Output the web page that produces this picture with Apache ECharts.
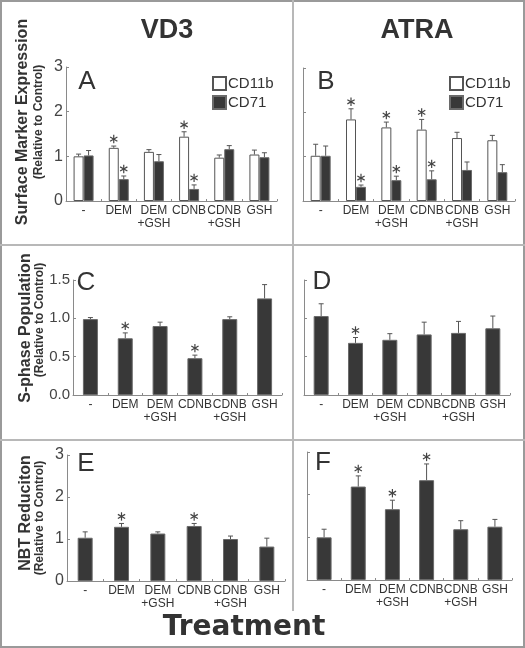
<!DOCTYPE html>
<html><head><meta charset="utf-8">
<script src="https://cdn.jsdelivr.net/npm/echarts@6/dist/echarts.min.js"></script>
<style>html,body{margin:0;padding:0;background:#fff}#c{width:525px;height:648px}</style>
</head><body><div id="c"></div>
<script>
const categories = ['-', 'DEM', 'DEM\n+GSH', 'CDNB', 'CDNB\n+GSH', 'GSH'];
const yTicks3 = [0, 1, 2, 3];
const yTicksS = [0.0, 0.5, 1.0, 1.5];

// Panel A (VD3, surface markers)
const A_CD11b = [1.00, 1.19, 1.10, 1.44, 0.97, 1.04];
const A_CD11b_err = [0.05, 0.04, 0.05, 0.11, 0.06, 0.10];
const A_CD11b_sig = [0, 1, 0, 1, 0, 0];
const A_CD71 = [1.02, 0.49, 0.89, 0.27, 1.16, 0.98];
const A_CD71_err = [0.11, 0.07, 0.15, 0.09, 0.08, 0.10];
const A_CD71_sig = [0, 1, 0, 1, 0, 0];
// Panel B (ATRA, surface markers)
const B_CD11b = [1.02, 1.84, 1.66, 1.61, 1.42, 1.37];
const B_CD11b_err = [0.26, 0.24, 0.12, 0.23, 0.13, 0.11];
const B_CD11b_sig = [0, 1, 1, 1, 0, 0];
const B_CD71 = [1.02, 0.32, 0.47, 0.49, 0.70, 0.65];
const B_CD71_err = [0.22, 0.04, 0.09, 0.19, 0.18, 0.17];
const B_CD71_sig = [0, 1, 1, 1, 0, 0];
// Panel C (VD3, S-phase)
const C_vals = [0.99, 0.74, 0.90, 0.48, 0.99, 1.26];
const C_err = [0.02, 0.07, 0.05, 0.04, 0.03, 0.18];
const C_sig = [0, 1, 0, 1, 0, 0];
// Panel D (ATRA, S-phase)
const D_vals = [1.03, 0.68, 0.72, 0.79, 0.81, 0.87];
const D_err = [0.16, 0.07, 0.08, 0.16, 0.15, 0.16];
const D_sig = [0, 1, 0, 0, 0, 0];
// Panel E (VD3, NBT)
const E_vals = [1.03, 1.29, 1.13, 1.31, 1.00, 0.82];
const E_err = [0.14, 0.08, 0.04, 0.06, 0.07, 0.20];
const E_sig = [0, 1, 0, 1, 0, 0];
// Panel F (ATRA, NBT)
const F_vals = [1.00, 2.19, 1.66, 2.34, 1.19, 1.25];
const F_err = [0.19, 0.25, 0.21, 0.38, 0.20, 0.17];
const F_sig = [0, 1, 1, 1, 0, 0];

const chart = echarts.init(document.getElementById('c'), null, {renderer: 'canvas'});

const AXIS = '#8a8a8a';
const TXT = '#333';
const DARK = {color: '#383838', borderColor: '#6a6a6a', borderWidth: 1};
const WHITE = {color: '#ffffff', borderColor: '#555', borderWidth: 1};

const grids = [
  {left: 66, top: 67, width: 211, height: 134},
  {left: 303, top: 68, width: 212, height: 133},
  {left: 73, top: 280, width: 209, height: 115},
  {left: 304, top: 280, width: 206, height: 115},
  {left: 67, top: 455, width: 218, height: 126},
  {left: 307, top: 452, width: 205, height: 128}
];

const xAxes = grids.map((g, i) => ({
  type: 'category', gridIndex: i, data: categories,
  axisLine: {lineStyle: {color: AXIS, width: 1}},
  axisTick: {show: true, inside: true, length: 2, lineStyle: {color: AXIS}},
  axisLabel: {interval: 0, fontFamily: 'Liberation Sans', fontSize: 12, color: TXT, lineHeight: 13, margin: 3}
}));

function yAxis(i, ticks, showLabels, fs) {
  const step = ticks[1] - ticks[0];
  return {
    type: 'value', gridIndex: i, min: ticks[0], max: ticks[ticks.length - 1], interval: step,
    splitLine: {show: false},
    axisLine: {show: true, lineStyle: {color: AXIS, width: 1}},
    axisTick: {show: true, inside: true, length: 3, lineStyle: {color: AXIS}},
    axisLabel: {show: showLabels, fontFamily: 'Liberation Sans', fontSize: fs, color: '#444', margin: 3,
      formatter: step < 1 ? (v => v.toFixed(1)) : (v => String(v))}
  };
}
const yAxes = [
  yAxis(0, yTicks3, true, 16), yAxis(1, yTicks3, false, 16),
  yAxis(2, yTicksS, true, 15), yAxis(3, yTicksS, false, 15),
  yAxis(4, yTicks3, true, 16), yAxis(5, yTicks3, false, 16)
];

function errSeries(gi, vals, errs, sigs, offset) {
  return {
    type: 'custom', xAxisIndex: gi, yAxisIndex: gi, z: 5, silent: true,
    encode: {x: 0, y: 1},
    data: vals.map((v, k) => [k, v, errs[k], sigs[k]]),
    renderItem: function (params, api) {
      const k = api.value(0), v = api.value(1), e = api.value(2), s = api.value(3);
      const b = api.coord([k, v]);
      const t = api.coord([k, v + e]);
      const cx = b[0] + offset;
      const st = {stroke: '#555', lineWidth: 1};
      const ch = [
        {type: 'line', shape: {x1: cx, y1: b[1], x2: cx, y2: t[1]}, style: st},
        {type: 'line', shape: {x1: cx - 2.5, y1: t[1], x2: cx + 2.5, y2: t[1]}, style: st}
      ];
      if (s) {
        const cy = t[1] - 7, r = 4.2;
        const sst = {stroke: '#444', lineWidth: 1.2};
        const dx = r * Math.cos(Math.PI / 6), dy = r * Math.sin(Math.PI / 6);
        ch.push({type: 'line', shape: {x1: cx, y1: cy - r, x2: cx, y2: cy + r}, style: sst});
        ch.push({type: 'line', shape: {x1: cx - dx, y1: cy - dy, x2: cx + dx, y2: cy + dy}, style: sst});
        ch.push({type: 'line', shape: {x1: cx - dx, y1: cy + dy, x2: cx + dx, y2: cy - dy}, style: sst});
      }
      return {type: 'group', children: ch};
    }
  };
}

const series = [];
// A and B paired bars
[[0, A_CD11b, A_CD11b_err, A_CD11b_sig, A_CD71, A_CD71_err, A_CD71_sig],
 [1, B_CD11b, B_CD11b_err, B_CD11b_sig, B_CD71, B_CD71_err, B_CD71_sig]].forEach(p => {
  const gi = p[0];
  series.push({name: 'CD11b', type: 'bar', xAxisIndex: gi, yAxisIndex: gi, data: p[1], barWidth: 10, barGap: '0%', itemStyle: WHITE, silent: true});
  series.push({name: 'CD71', type: 'bar', xAxisIndex: gi, yAxisIndex: gi, data: p[4], barWidth: 10, barGap: '0%', itemStyle: DARK, silent: true});
  series.push(errSeries(gi, p[1], p[2], p[3], -5));
  series.push(errSeries(gi, p[4], p[5], p[6], 5));
});
// C-F single bars
[[2, C_vals, C_err, C_sig], [3, D_vals, D_err, D_sig], [4, E_vals, E_err, E_sig], [5, F_vals, F_err, F_sig]].forEach(p => {
  const gi = p[0];
  series.push({type: 'bar', xAxisIndex: gi, yAxisIndex: gi, data: p[1], barWidth: 15, itemStyle: DARK, silent: true});
  series.push(errSeries(gi, p[1], p[2], p[3], 0));
});

function legend(left, top) {
  return {
    left: left, top: top, orient: 'vertical', selectedMode: false, icon: 'rect',
    itemWidth: 13, itemHeight: 13, itemGap: 4,
    data: ['CD11b', 'CD71'],
    textStyle: {fontFamily: 'Liberation Sans', fontSize: 15, color: TXT, padding: [0, 0, 0, -3]}
  };
}

function rtext(x, y, text, size, bold) {
  return {type: 'text', x: x, y: y, rotation: Math.PI / 2, z: 10,
    style: {text: text, fontFamily: 'Liberation Sans', fontSize: size, fontWeight: bold ? 'bold' : 'normal',
      fill: TXT, textAlign: 'center', textVerticalAlign: 'middle'}};
}
function htext(x, y, text, size, bold, family) {
  return {type: 'text', x: x, y: y, z: 10,
    style: {text: text, fontFamily: family || 'Liberation Sans', fontSize: size, fontWeight: bold ? 'bold' : 'normal',
      fill: TXT, textAlign: 'center', textVerticalAlign: 'middle'}};
}

const graphic = [
  {type: 'rect', shape: {x: 1, y: 1, width: 523, height: 646}, style: {fill: 'none', stroke: '#9a9a9a', lineWidth: 2}, z: 1},
  {type: 'line', shape: {x1: 293, y1: 0, x2: 293, y2: 611}, style: {stroke: '#b8b8b8', lineWidth: 2}, z: 1},
  {type: 'line', shape: {x1: 0, y1: 245, x2: 525, y2: 245}, style: {stroke: '#b8b8b8', lineWidth: 2}, z: 1},
  {type: 'line', shape: {x1: 0, y1: 440, x2: 525, y2: 440}, style: {stroke: '#b8b8b8', lineWidth: 2}, z: 1},
  htext(167, 31, 'VD3', 27, true),
  htext(417, 31, 'ATRA', 27, true),
  htext(244, 628, 'Treatment', 28, true, 'DejaVu Sans'),
  htext(87, 82, 'A', 26, false),
  htext(326, 82, 'B', 26, false),
  htext(86, 283, 'C', 26, false),
  htext(322, 282, 'D', 26, false),
  htext(86, 464, 'E', 26, false),
  htext(323, 463, 'F', 26, false),
  rtext(23, 122, 'Surface Marker Expression', 16, true),
  rtext(39, 122, '(Relative to Control)', 12, true),
  rtext(26, 328, 'S-phase Population', 16, true),
  rtext(40, 320, '(Relative to Control)', 12, true),
  rtext(26, 513, 'NBT Reduciton', 16, true),
  rtext(40, 518, '(Relative to Control)', 12, true)
];

chart.setOption({
  animation: false,
  backgroundColor: '#fff',
  grid: grids,
  xAxis: xAxes,
  yAxis: yAxes,
  legend: [legend(207, 71), legend(444, 71)],
  series: series,
  graphic: graphic
});
</script>
</body></html>
